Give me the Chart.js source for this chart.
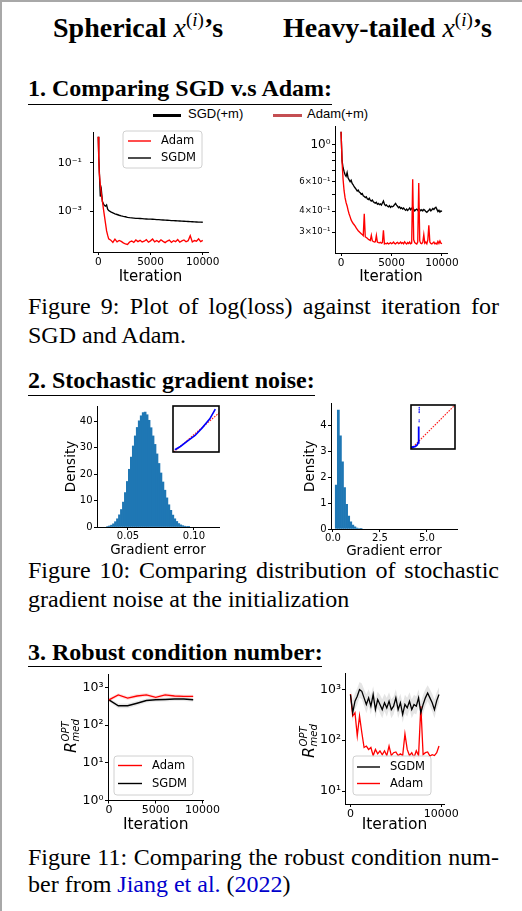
<!DOCTYPE html>
<html><head><meta charset="utf-8">
<script src="https://cdn.jsdelivr.net/npm/chart.js@4.4.1/dist/chart.umd.min.js"></script>
<style>
html,body{margin:0;padding:0;background:#fff;}
#page{position:relative;width:522px;height:911px;overflow:hidden;background:#fff;}
.frame{position:absolute;left:0;top:0;width:540px;height:930px;border-left:2px solid #a8a8a8;border-top:2px solid #a8a8a8;}
.t{position:absolute;white-space:nowrap;font-family:"Liberation Serif","Times New Roman",serif;color:#000;line-height:1;}
.head{font-weight:bold;font-size:24px;}
.ttl{font-weight:bold;font-size:28px;}
.cap{font-size:24px;}
.just{width:471px;white-space:normal;text-align:justify;text-align-last:justify;}
.rule{position:absolute;height:0;border-top:1.3px solid #000;}
.s{position:absolute;white-space:nowrap;font-family:"Liberation Sans",Arial,sans-serif;font-size:13px;line-height:1;color:#000;}
.lk{color:#0000cc;}
.m{font-weight:normal;font-style:italic;}
.sup{font-weight:normal;font-size:19px;position:relative;top:-11px;}
canvas{position:absolute;}
</style></head>
<body><div id="page">
<div class="frame"></div>

<div class="t ttl" style="left:53px;top:13.5px">Spherical <span class="m">x</span><span class="sup">(<i>i</i>)</span>’s</div>
<div class="t ttl" style="left:283px;top:13.5px">Heavy-tailed <span class="m">x</span><span class="sup">(<i>i</i>)</span>’s</div>

<div class="t head" style="left:28px;top:76px">1. Comparing SGD v.s Adam:</div>
<div class="rule" style="left:28px;top:104px;width:304px"></div>

<div style="position:absolute;left:153px;top:113.5px;width:28px;height:3px;background:#000"></div>
<div class="s" style="left:188px;top:107px">SGD(+m)</div>
<div style="position:absolute;left:273px;top:113.5px;width:29px;height:3px;background:#c44e52"></div>
<div class="s" style="left:307px;top:107px">Adam(+m)</div>

<div class="t cap just" style="left:28px;top:294px">Figure 9: Plot of log(loss) against iteration for</div>
<div class="t cap" style="left:28px;top:323px">SGD and Adam.</div>

<div class="t head" style="left:28px;top:368px">2. Stochastic gradient noise:</div>
<div class="rule" style="left:28px;top:395px;width:287px"></div>

<div class="t cap just" style="left:28px;top:558px">Figure 10: Comparing distribution of stochastic</div>
<div class="t cap" style="left:28px;top:587px">gradient noise at the initialization</div>

<div class="t head" style="left:28px;top:640px">3. Robust condition number:</div>
<div class="rule" style="left:28px;top:666px;width:294px"></div>

<div class="t cap just" style="left:28px;top:845px">Figure 11: Comparing the robust condition num-</div>
<div class="t cap" style="left:28px;top:872px">ber from <span class="lk">Jiang et al.</span> (<span class="lk">2022</span>)</div>

<canvas id="c1"></canvas><canvas id="c2"></canvas>
<canvas id="c3"></canvas><canvas id="c4"></canvas>
<canvas id="i1"></canvas><canvas id="i2"></canvas>
<canvas id="c5"></canvas><canvas id="c6"></canvas>
</div>
<script>
// ---------- DATA ----------
// Fig 9 left (spherical): loss vs iteration
const itersL = [0,50,100,200,300,400,500,600,700,800,900,1000,
 1200,1400,1600,1800,2000,2200,2400,2600,2800,3000,3200,3400,3600,3800,4000,4200,4400,4600,4800,5000,
 5200,5400,5600,5800,6000,6200,6400,6600,6800,7000,7200,7400,7600,7800,8000,8200,8400,8600,8800,9000,
 9200,9400,9600,9800,10000];
const adamL = [1.2,0.15,0.04,0.012,0.005,0.0025,0.0012,0.0006,0.0003,0.00015,0.0001,0.00007,
 6.2e-5,5.0e-5,6.8e-5,5.3e-5,6.0e-5,5.5e-5,4.8e-5,4.3e-5,4.1e-5,5.2e-5,5.7e-5,5.0e-5,6.3e-5,5.4e-5,6.1e-5,5.2e-5,5.6e-5,6.5e-5,5.1e-5,5.8e-5,
 6.9e-5,5.3e-5,6.0e-5,5.2e-5,6.4e-5,5.5e-5,4.9e-5,5.7e-5,6.2e-5,5.0e-5,5.9e-5,5.4e-5,6.6e-5,5.1e-5,5.8e-5,6.3e-5,5.3e-5,5.9e-5,9.5e-5,5.2e-5,
 6.0e-5,5.6e-5,7.0e-5,5.4e-5,6.1e-5];
const sgdmL = [1.2,0.2,0.05,0.004,0.0075,0.0025,0.002,0.0017,0.0016,0.0018,0.0012,0.00105,
 9.2e-4,8.4e-4,7.7e-4,7.2e-4,6.7e-4,6.3e-4,6.0e-4,5.8e-4,5.5e-4,5.3e-4,5.2e-4,5.1e-4,5.0e-4,4.95e-4,4.9e-4,4.85e-4,4.75e-4,4.7e-4,4.65e-4,4.6e-4,
 4.55e-4,4.5e-4,4.4e-4,4.38e-4,4.3e-4,4.25e-4,4.2e-4,4.15e-4,4.1e-4,4.02e-4,3.98e-4,3.95e-4,3.9e-4,3.85e-4,3.8e-4,3.76e-4,3.72e-4,3.68e-4,3.65e-4,3.6e-4,
 3.56e-4,3.52e-4,3.48e-4,3.45e-4,3.42e-4];

// Fig 9 right (heavy-tailed)
const itersR = [0,100,200,300,400,500,600,700,800,900,1000,1100,1200,1300,1400,1500,1600,1700,1800,1900,
 2000,2100,2200,2300,2400,2500,2600,2700,2800,2900,3000,3100,3200,3300,3400,3500,3600,3700,3800,3900,
 4000,4100,4200,4300,4400,4500,4600,4700,4800,4900,5000,5100,5200,5300,5400,5500,5600,5700,5800,5900,
 6000,6100,6200,6300,6400,6500,6600,6700,6800,6900,7000,7100,7200,7300,7400,7500,7600,7700,7800,7900,
 8000,8100,8200,8300,8400,8500,8600,8700,8800,8900,9000,9100,9200,9300,9400,9500,9600,9700,9800,9900,10000];
const adamR = [1.19,0.79,0.62,0.53,0.48,0.45,0.43,0.405,0.385,0.37,0.355,0.345,0.338,0.332,0.326,0.318,0.312,0.306,0.302,0.298,
 0.294,0.29,0.286,0.386,0.281,0.279,0.276,0.272,0.27,0.268,0.287,0.266,0.264,0.262,0.263,0.287,0.262,0.26,0.259,0.261,
 0.258,0.26,0.308,0.255,0.257,0.256,0.259,0.255,0.257,0.26,0.256,0.258,0.262,0.257,0.255,0.259,0.261,0.256,0.258,0.262,
 0.257,0.26,0.256,0.263,0.258,0.255,0.26,0.257,0.262,0.256,0.258,0.62,0.27,0.26,0.257,0.255,0.262,0.59,0.266,0.258,
 0.256,0.261,0.29,0.258,0.262,0.256,0.27,0.33,0.262,0.257,0.255,0.259,0.262,0.256,0.258,0.255,0.264,0.257,0.266,0.258,0.256];
const sgdmR = [1.19,0.8,0.726,0.69,0.66,0.645,0.68,0.63,0.615,0.6,0.612,0.585,0.575,0.56,0.55,0.54,0.528,0.535,0.52,0.515,
 0.505,0.51,0.495,0.49,0.482,0.488,0.475,0.47,0.478,0.465,0.46,0.466,0.455,0.45,0.447,0.452,0.44,0.445,0.438,0.442,
 0.435,0.448,0.46,0.44,0.432,0.436,0.428,0.425,0.432,0.422,0.428,0.425,0.43,0.438,0.445,0.435,0.428,0.42,0.425,0.415,
 0.42,0.412,0.418,0.41,0.405,0.412,0.404,0.41,0.418,0.408,0.415,0.424,0.41,0.402,0.408,0.412,0.405,0.415,0.41,0.403,
 0.408,0.402,0.41,0.405,0.398,0.394,0.4,0.405,0.412,0.402,0.408,0.415,0.41,0.418,0.422,0.41,0.398,0.405,0.395,0.402,0.398];

// Fig 10 histograms (bin centres, density)
const histLx = [0.0345,0.036,0.0375,0.039,0.0405,0.042,0.0435,0.045,0.0465,0.048,0.0495,0.051,0.0525,0.054,0.0555,0.057,0.0585,0.060,0.0615,0.063,0.0645,
 0.066,0.0675,0.069,0.0705,0.072,0.0735,0.075,0.0765,0.078,0.0795,0.081,0.0825,0.084,0.0855,0.087,0.0885,0.090,0.0915,0.093,0.0945,0.096];
const histLy = [0.2,0.4,0.7,1.2,2.0,3.1,4.6,6.6,9.4,13.0,17.2,21.8,26.4,30.6,34.4,37.6,40.1,42.0,43.2,43.4,42.4,
 40.3,37.5,34.4,31.2,27.6,24.0,20.4,17.0,13.9,11.0,8.4,6.3,4.5,3.1,2.1,1.3,0.8,0.5,0.3,0.2,0.1];
const histRx = [0.175,0.285,0.395,0.505,0.615,0.725,0.835,0.945,1.055,1.165,1.275,1.385,1.495];
const histRy = [1.7,4.6,3.6,2.6,1.6,0.95,0.5,0.28,0.15,0.08,0.04,0.02,0.01];
// insets (Q-Q plots, normalised)
const qqLx = [0.04,0.16,0.32,0.48,0.64,0.80,0.92];
const qqLy = [0.05,0.12,0.24,0.36,0.53,0.72,0.93];
const refLx = [0.02,1.0], refLy = [0.0,0.85];
const qqRx = [0.0,0.05,0.10,0.14,0.16,0.17,0.18];
const qqRy = [0.04,0.045,0.06,0.09,0.14,0.29,0.51];
const qqRoutX = [0.185,0.186,0.186,0.187,0.187,0.188];
const qqRoutY = [0.62,0.66,0.83,0.86,0.90,0.94];
const refRx = [0,1], refRy = [0,1];

// Fig 11 robust condition number
const itersC = [0,1000,2000,3000,4000,5000,6000,7000,8000,9000];
const adamC  = [474,640,525,600,640,550,640,600,585,585];
const adamCHi= [530,710,590,680,720,610,720,670,650,650];
const adamCLo= [420,570,470,540,570,490,570,540,520,520];
const sgdmC  = [474,330,330,385,455,474,485,496,496,474];
const sgdmCHi= [520,380,380,440,510,530,540,550,550,530];
const sgdmCLo= [420,285,285,335,400,420,430,440,440,420];
const itersD = [0,250,500,750,1000,1250,1500,1750,2000,2250,2500,2750,3000,3250,3500,3750,4000,4250,4500,4750,
 5000,5250,5500,5750,6000,6250,6500,6750,7000,7250,7500,7750,8000,8250,8500,8750,9000,9250,9500,9750];
const sgdmD = [789,347,585,730,985,915,680,505,680,467,789,400,630,505,400,545,432,585,400,467,
 680,400,545,322,505,432,585,400,505,467,680,347,505,680,844,680,545,400,600,789];
const sgdmDHi = [1100,600,850,1050,1400,1300,1000,800,1000,750,1150,650,900,780,640,820,680,880,640,720,
 1000,640,820,520,780,680,880,640,780,720,1000,560,780,1000,1200,1000,820,640,880,1100];
const sgdmDLo = [560,230,400,500,680,640,470,340,470,320,550,270,430,340,270,370,290,400,270,320,
 470,270,370,220,340,290,400,270,340,320,470,230,340,470,580,470,370,270,410,550];
const adamD = [810,299,347,122,299,142,72,77,66,72,50,66,54,62,52,62,50,77,50,57,
 59,50,54,50,133,66,50,57,46,62,50,467,52,57,59,49,52,50,57,77];

// ---------- HELPERS ----------
Chart.defaults.font.family = "'DejaVu Sans', sans-serif";
Chart.defaults.color = '#000';
Chart.defaults.animation = false;
Chart.defaults.responsive = false;
Chart.defaults.maintainAspectRatio = false;
Chart.defaults.events = [];
Chart.defaults.plugins.legend.display = false;
Chart.defaults.plugins.tooltip.enabled = false;

const xy = (xs, ys) => xs.map((x, i) => ({x: x, y: ys[i]}));

function mk(id, box, area) {
  const c = document.getElementById(id);
  c.width = box.r - box.l; c.height = box.b - box.t;
  c.style.left = box.l + 'px'; c.style.top = box.t + 'px';
  c.style.width = c.width + 'px'; c.style.height = c.height + 'px';
  return {el: c, box: box, yw: area.l - box.l, xh: box.b - area.b, pt: area.t - box.t, pr: box.r - area.r};
}
function axis(o) {
  return {
    type: o.type || 'linear', position: o.pos, min: o.min, max: o.max, bounds: 'data', offset: false,
    afterFit: o.fit,
    afterBuildTicks: (s) => { s.ticks = o.ticks.map(v => ({value: v})); },
    grid: {display: true, offset: false, drawOnChartArea: false, drawTicks: true, tickLength: 3,
           color: '#000', tickColor: '#000', tickWidth: 1, lineWidth: 1},
    border: {display: true, color: '#000', width: 1},
    ticks: {color: '#000', font: o.font || {size: 10.5}, padding: (o.pad !== undefined ? o.pad : 0.5), maxRotation: 0, minRotation: 0,
            autoSkip: false, callback: (v, i) => o.labels[i]},
    title: o.title ? {display: true, text: o.title, color: '#000', font: {size: o.tsize}, padding: o.tpad}
                   : {display: false}
  };
}
function legendBox(g, L) {
  return {id: 'lb', afterDatasetsDraw(chart) {
    const ctx = chart.ctx, ox = g.box.l, oy = g.box.t;
    ctx.save();
    ctx.beginPath();
    if (ctx.roundRect) ctx.roundRect(L.x1 - ox, L.y1 - oy, L.x2 - L.x1, L.y2 - L.y1, 3);
    else ctx.rect(L.x1 - ox, L.y1 - oy, L.x2 - L.x1, L.y2 - L.y1);
    ctx.fillStyle = 'rgba(255,255,255,0.85)'; ctx.fill();
    ctx.strokeStyle = '#d0d0d0'; ctx.lineWidth = 1; ctx.stroke();
    ctx.font = "11.5px 'DejaVu Sans'"; ctx.textBaseline = 'middle'; ctx.textAlign = 'left';
    L.items.forEach(it => {
      ctx.beginPath(); ctx.strokeStyle = it.c; ctx.lineWidth = 1.4;
      ctx.moveTo(L.lx1 - ox, it.y - oy); ctx.lineTo(L.lx2 - ox, it.y - oy); ctx.stroke();
      ctx.fillStyle = '#000'; ctx.fillText(it.t, L.tx - ox, it.y - oy + 0.5);
    });
    ctx.restore();
  }};
}
function rLabel(g, px, py) {
  return {id: 'rl', afterDraw(chart) {
    const ctx = chart.ctx;
    ctx.save();
    ctx.translate(px - g.box.l, py - g.box.t); ctx.rotate(-Math.PI / 2);
    ctx.fillStyle = '#000'; ctx.textBaseline = 'alphabetic'; ctx.textAlign = 'left';
    ctx.font = "italic 16px 'DejaVu Sans'"; ctx.fillText('R', 0, 0);
    const w = ctx.measureText('R').width;
    ctx.font = "italic 10px 'DejaVu Sans'";
    ctx.fillText('OPT', w + 0.5, -7); ctx.fillText('med', w + 0.5, 3);
    ctx.restore();
  }};
}
const line = (data, color, w) => ({data: data, borderColor: color, borderWidth: w || 1.35, pointRadius: 0, tension: 0, fill: false});
const band = (data, color, fill) => ({data: data, borderWidth: 0, borderColor: 'rgba(0,0,0,0)', backgroundColor: color, pointRadius: 0, fill: fill});
const lay = g => ({padding: {left: 0, top: g.pt, right: g.pr, bottom: 0}});

// ---------- FIG 9 LEFT ----------
const g1 = mk('c1', {l: 40, t: 118, r: 234, b: 292}, {l: 93, t: 125, r: 208, b: 252});
new Chart(g1.el, {type: 'line',
  data: {datasets: [line(xy(itersL, adamL), '#ff0000'), line(xy(itersL, sgdmL), '#000000')]},
  options: {layout: lay(g1), scales: {
    x: axis({pos: 'bottom', min: -500, max: 10500, ticks: [0, 5000, 10000], labels: ['0', '5000', '10000'],
             fit: s => { s.height = g1.xh; }, title: 'Iteration', tsize: 15, tpad: {top: 0, bottom: 292 - 277 - 9}}),
    y: axis({type: 'logarithmic', pos: 'left', min: 2e-5, max: 1.8, ticks: [1e-3, 1e-1], labels: ['10⁻³', '10⁻¹'],
             font: {size: 11}, pad: 8, fit: s => { s.width = g1.yw; }})}},
  plugins: [legendBox(g1, {x1: 123, y1: 131, x2: 202, y2: 168, lx1: 128, lx2: 151, tx: 161,
    items: [{t: 'Adam', c: '#ff0000', y: 141}, {t: 'SGDM', c: '#000000', y: 158}]})]
});

// ---------- FIG 9 RIGHT ----------
const g2 = mk('c2', {l: 282, t: 118, r: 472, b: 292}, {l: 335, t: 125, r: 447, b: 253});
const yT2 = [0.3, 0.4, 0.5, 0.6, 0.7, 0.8, 0.9, 1.0];
const yL2 = ['3×10⁻¹', '4×10⁻¹', '', '6×10⁻¹', '', '', '', '10⁰'];
const y2 = axis({type: 'logarithmic', pos: 'left', min: 0.2254, max: 1.276, ticks: yT2, labels: yL2, pad: 1.5,
             fit: s => { s.width = g2.yw; }});
y2.ticks.font = (c) => ({family: "'DejaVu Sans'", size: (c.index === 7) ? 12 : 8.5});
new Chart(g2.el, {type: 'line',
  data: {datasets: [line(xy(itersR, adamR), '#ff0000'), line(xy(itersR, sgdmR), '#000000')]},
  options: {layout: lay(g2), scales: {
    x: axis({pos: 'bottom', min: -600, max: 10500, ticks: [0, 5000, 10000], labels: ['0', '5000', '10000'],
             fit: s => { s.height = g2.xh; }, title: 'Iteration', tsize: 15, tpad: {top: 0, bottom: 292 - 277 - 9}}),
    y: y2}},
});
// ---------- FIG 10 LEFT ----------
const g3 = mk('c3', {l: 55, t: 398, r: 242, b: 562}, {l: 97, t: 406, r: 219, b: 527});
new Chart(g3.el, {type: 'bar',
  data: {datasets: [{data: xy(histLx, histLy), backgroundColor: '#1f77b4', borderWidth: 0, barPercentage: 1, categoryPercentage: 1}]},
  options: {layout: lay(g3), scales: {
    x: axis({pos: 'bottom', min: 0.0265, max: 0.119, ticks: [0.05, 0.10], labels: ['0.05', '0.10'], font: {size: 10},
             fit: s => { s.height = g3.xh; }, title: 'Gradient error', tsize: 13.5, tpad: {top: 0, bottom: 562 - 550 - 8.1}}),
    y: axis({pos: 'left', min: 0, max: 45.7, ticks: [0, 10, 20, 30, 40], labels: ['0', '10', '20', '30', '40'], font: {size: 10}, pad: 1.5,
             fit: s => { s.width = g3.yw; }, title: 'Density', tsize: 13.5, tpad: {top: 71 - 55 - 8.1, bottom: 0}})}}
});
// ---------- FIG 10 RIGHT ----------
const g4 = mk('c4', {l: 295, t: 396, r: 476, b: 562}, {l: 331, t: 403, r: 457, b: 529});
new Chart(g4.el, {type: 'bar',
  data: {datasets: [{data: xy(histRx, histRy), backgroundColor: '#1f77b4', borderWidth: 0, barPercentage: 1, categoryPercentage: 1}]},
  options: {layout: lay(g4), scales: {
    x: axis({pos: 'bottom', min: -0.106, max: 6.6, ticks: [0, 2.5, 5.0], labels: ['0.0', '2.5', '5.0'], font: {size: 10},
             fit: s => { s.height = g4.xh; }, title: 'Gradient error', tsize: 13.5, tpad: {top: 0, bottom: 562 - 551 - 8.1}}),
    y: axis({pos: 'left', min: 0, max: 4.85, ticks: [0, 1, 2, 3, 4], labels: ['0', '1', '2', '3', '4'], font: {size: 10}, pad: 1.5,
             fit: s => { s.width = g4.yw; }, title: 'Density', tsize: 13.5, tpad: {top: 310 - 295 - 8.1, bottom: 0}})}}
});
// ---------- INSETS ----------
function inset(id, area, datasets) {
  const box = {l: area.l - 2, t: area.t - 2, r: area.r + 2, b: area.b + 2};
  const g = mk(id, box, area);
  new Chart(g.el, {type: 'scatter', data: {datasets: datasets},
    options: {layout: {padding: 2}, scales: {x: {display: false, min: 0, max: 1}, y: {display: false, min: 0, max: 1}}},
    plugins: [{id: 'frame',
      beforeDatasetsDraw(chart) { const {ctx, chartArea: a} = chart; ctx.save(); ctx.fillStyle = '#fff';
        ctx.fillRect(a.left, a.top, a.right - a.left, a.bottom - a.top); ctx.restore(); },
      afterDraw(chart) { const {ctx, chartArea: a} = chart; ctx.save(); ctx.strokeStyle = '#000'; ctx.lineWidth = 1.6;
        ctx.strokeRect(a.left, a.top, a.right - a.left, a.bottom - a.top); ctx.restore(); }}]
  });
}
inset('i1', {l: 173, t: 406, r: 219, b: 452}, [
  {data: xy(qqLx, qqLy), showLine: true, borderColor: '#0000ff', borderWidth: 1.6, pointRadius: 0},
  {data: xy(refLx, refLy), showLine: true, borderColor: '#ff1a1a', borderWidth: 1.1, borderDash: [1.6, 1.2], pointRadius: 0}
]);
inset('i2', {l: 409, t: 403, r: 457, b: 451}, [
  {data: xy(qqRx, qqRy), showLine: true, borderColor: '#0000ff', borderWidth: 1.8, pointRadius: 0},
  {data: xy(qqRoutX, qqRoutY), showLine: false, backgroundColor: '#3030ff', borderWidth: 0, pointRadius: 0.8},
  {data: xy(refRx, refRy), showLine: true, borderColor: '#ff1a1a', borderWidth: 1.1, borderDash: [1.6, 1.2], pointRadius: 0}
]);
// ---------- FIG 11 LEFT ----------
const g5 = mk('c5', {l: 50, t: 665, r: 228, b: 840}, {l: 108, t: 672, r: 203.5, b: 800.5});
new Chart(g5.el, {type: 'line',
  data: {datasets: [line(xy(itersC, adamC), '#ff0000', 1.4), line(xy(itersC, sgdmC), '#000000', 1.4),
    band(xy(itersC, adamCHi), 'rgba(255,0,0,0.13)', '+1'), band(xy(itersC, adamCLo), 'rgba(0,0,0,0)', false),
    band(xy(itersC, sgdmCHi), 'rgba(0,0,0,0.09)', '+1'), band(xy(itersC, sgdmCLo), 'rgba(0,0,0,0)', false)]},
  options: {layout: lay(g5), scales: {
    x: axis({pos: 'bottom', min: -100, max: 10100, ticks: [0, 5000, 10000], labels: ['0', '5000', '10000'], font: {size: 11},
             fit: s => { s.height = g5.xh; }, title: 'Iteration', tsize: 15.5, tpad: {top: 0, bottom: 840 - 825 - 9.3}}),
    y: axis({type: 'logarithmic', pos: 'left', min: 1, max: 2300, ticks: [1, 10, 100, 1000], labels: ['10⁰', '10¹', '10²', '10³'], font: {size: 12.5}, pad: 1.5,
             fit: s => { s.width = g5.yw; }})}},
  plugins: [rLabel(g5, 75.5, 753), legendBox(g5, {x1: 114, y1: 756, x2: 193, y2: 795, lx1: 118, lx2: 142, tx: 152,
    items: [{t: 'Adam', c: '#ff0000', y: 765.5}, {t: 'SGDM', c: '#000000', y: 783.5}]})]
});
// ---------- FIG 11 RIGHT ----------
const g6 = mk('c6', {l: 290, t: 665, r: 470, b: 840}, {l: 345, t: 672, r: 444, b: 804});
new Chart(g6.el, {type: 'line',
  data: {datasets: [line(xy(itersD, sgdmD), '#000000', 1.3), line(xy(itersD, adamD), '#ff0000', 1.3),
    band(xy(itersD, sgdmDHi), 'rgba(0,0,0,0.10)', '+1'), band(xy(itersD, sgdmDLo), 'rgba(0,0,0,0)', false)]},
  options: {layout: lay(g6), scales: {
    x: axis({pos: 'bottom', min: -600, max: 10300, ticks: [0, 10000], labels: ['0', '10000'], font: {size: 11},
             fit: s => { s.height = g6.xh; }, title: 'Iteration', tsize: 15.5, tpad: {top: 0, bottom: 840 - 825 - 9.3}}),
    y: axis({type: 'logarithmic', pos: 'left', min: 5.6, max: 2045, ticks: [10, 100, 1000], labels: ['10¹', '10²', '10³'], font: {size: 12.5}, pad: 1,
             fit: s => { s.width = g6.yw; }})}},
  plugins: [rLabel(g6, 313.5, 758), legendBox(g6, {x1: 353, y1: 756, x2: 431, y2: 795, lx1: 357, lx2: 380, tx: 390,
    items: [{t: 'SGDM', c: '#000000', y: 767}, {t: 'Adam', c: '#ff0000', y: 783.5}]})]
});
</script>
</body></html>
